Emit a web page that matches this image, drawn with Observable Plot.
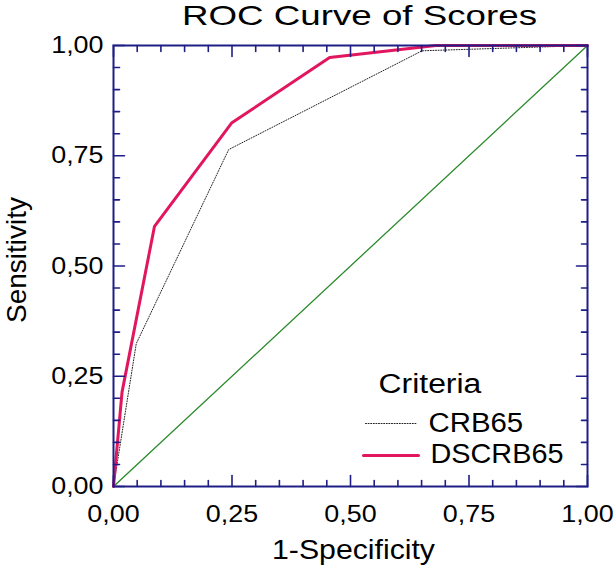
<!DOCTYPE html>
<html>
<head>
<meta charset="utf-8">
<script src="https://cdn.jsdelivr.net/npm/d3@7"></script>
<script src="https://cdn.jsdelivr.net/npm/@observablehq/plot@0.6"></script>
<style>
  html, body { margin: 0; padding: 0; background: #fff; }
  #chart svg { display: block; }
</style>
</head>
<body>
<div id="chart"></div>
<script>
// ---- data ----
const crbX = [0, 0.048, 0.243, 0.651, 1];
const crbY = [0, 0.324, 0.764, 0.988, 1];
const dsX = [0, 0.018, 0.0865, 0.249, 0.456, 0.68, 1];
const dsY = [0, 0.214, 0.59, 0.824, 0.973, 1, 1];
const refX = [0, 1];
const refY = [0, 1];
const majorTicks = [0, 0.25, 0.5, 0.75, 1];
const minorTicks = [0.05, 0.1, 0.15, 0.2, 0.3, 0.35, 0.4, 0.45, 0.55, 0.6, 0.65, 0.7, 0.8, 0.85, 0.9, 0.95];
const seriesNames = ["CRB65", "DSCRB65"];
const titleText = "ROC Curve of Scores";
const xLabel = "1-Specificity";
const yLabel = "Sensitivity";
const legendTitle = "Criteria";

const crb = crbX.map((x, i) => ({x, y: crbY[i]}));
const ds = dsX.map((x, i) => ({x, y: dsY[i]}));
const ref = refX.map((x, i) => ({x, y: refY[i]}));

const navy = "#1e1e86";
const red = "#e2165e";
const green = "#2b8a2b";
const fmt = d => d.toFixed(2).replace(".", ",");
const seg = {draw(ctx, l) { ctx.moveTo(0, 0); ctx.lineTo(0, -l); }};

const tickMarks = (vals, len) => [
  Plot.vector(vals, {x: d => d, y: 0, length: len, rotate: 0, anchor: "start", shape: seg, stroke: navy, strokeWidth: 1.6}),
  Plot.vector(vals, {x: d => d, y: 1, length: len, rotate: 180, anchor: "start", shape: seg, stroke: navy, strokeWidth: 1.6}),
  Plot.vector(vals, {y: d => d, x: 0, length: len, rotate: 90, anchor: "start", shape: seg, stroke: navy, strokeWidth: 1.6}),
  Plot.vector(vals, {y: d => d, x: 1, length: len, rotate: -90, anchor: "start", shape: seg, stroke: navy, strokeWidth: 1.6})
];

const txt = {fill: "#000", lineAnchor: "middle"};

const chart = Plot.plot({
  width: 614,
  height: 569,
  marginLeft: 113,
  marginRight: 27,
  marginTop: 45,
  marginBottom: 83,
  style: {fontFamily: "'Liberation Sans', Arial, sans-serif", color: "#000", background: "#fff"},
  x: {domain: [0, 1], axis: null},
  y: {domain: [0, 1], axis: null},
  marks: [
    Plot.line(ref, {x: "x", y: "y", stroke: green, strokeWidth: 1.3}),
    Plot.line(crb, {x: "x", y: "y", stroke: "#222", strokeWidth: 1, strokeDasharray: "1,1.6"}),
    Plot.line(ds, {x: "x", y: "y", stroke: red, strokeWidth: 3, strokeLinejoin: "miter"}),
    ...tickMarks(minorTicks, 6),
    ...tickMarks(majorTicks, 11),
    Plot.frame({stroke: navy, strokeWidth: 2}),
    Plot.text(majorTicks, {...txt, x: d => d, frameAnchor: "bottom", textAnchor: "middle", dy: 28, text: fmt, fontSize: 24}),
    Plot.text(majorTicks, {...txt, y: d => d, frameAnchor: "left", textAnchor: "end", dx: -10, text: fmt, fontSize: 24}),
    Plot.text([xLabel], {...txt, frameAnchor: "bottom", textAnchor: "middle", dx: 3, dy: 64, fontSize: 28}),
    Plot.text([yLabel], {...txt, frameAnchor: "left", textAnchor: "middle", dx: -96, dy: -6, rotate: -90, fontSize: 28}),
    Plot.text([titleText], {...txt, frameAnchor: "top", textAnchor: "middle", dx: 9, dy: -29, fontSize: 27}),
    // legend
    Plot.text([legendTitle], {...txt, frameAnchor: "bottom-right", textAnchor: "start", dx: -209, dy: -102, fontSize: 28}),
    Plot.text([seriesNames[0]], {...txt, frameAnchor: "bottom-right", textAnchor: "start", dx: -159, dy: -63, fontSize: 28}),
    Plot.text([seriesNames[1]], {...txt, frameAnchor: "bottom-right", textAnchor: "start", dx: -157, dy: -32, fontSize: 28}),
    Plot.vector([seriesNames[0]], {frameAnchor: "bottom-right", dx: -222, dy: -63, length: 51, rotate: 90, anchor: "start", shape: seg, stroke: "#222", strokeWidth: 1, strokeDasharray: "1,1.6"}),
    Plot.vector([seriesNames[1]], {frameAnchor: "bottom-right", dx: -224, dy: -31, length: 55, rotate: 90, anchor: "start", shape: seg, stroke: red, strokeWidth: 3})
  ]
});

// horizontal glyph stretch to match the reference's wide lettering
const stretch = new Map([[titleText, 1.36], [xLabel, 1.08], [legendTitle, 1.14], [seriesNames[0], 1.05], [seriesNames[1], 1.03]]);
majorTicks.forEach(t => stretch.set(fmt(t), 1.12));
chart.querySelectorAll("text").forEach(el => {
  const s = stretch.get(el.textContent);
  if (!s) return;
  const t = el.getAttribute("transform");
  if (t) {
    el.setAttribute("transform", `${t} scale(${s},1)`);
  } else {
    const x = +(el.getAttribute("x") || 0), y = +(el.getAttribute("y") || 0);
    el.setAttribute("transform", `translate(${x},${y}) scale(${s},1) translate(${-x},${-y})`);
  }
});
document.getElementById("chart").append(chart);
</script>
</body>
</html>
